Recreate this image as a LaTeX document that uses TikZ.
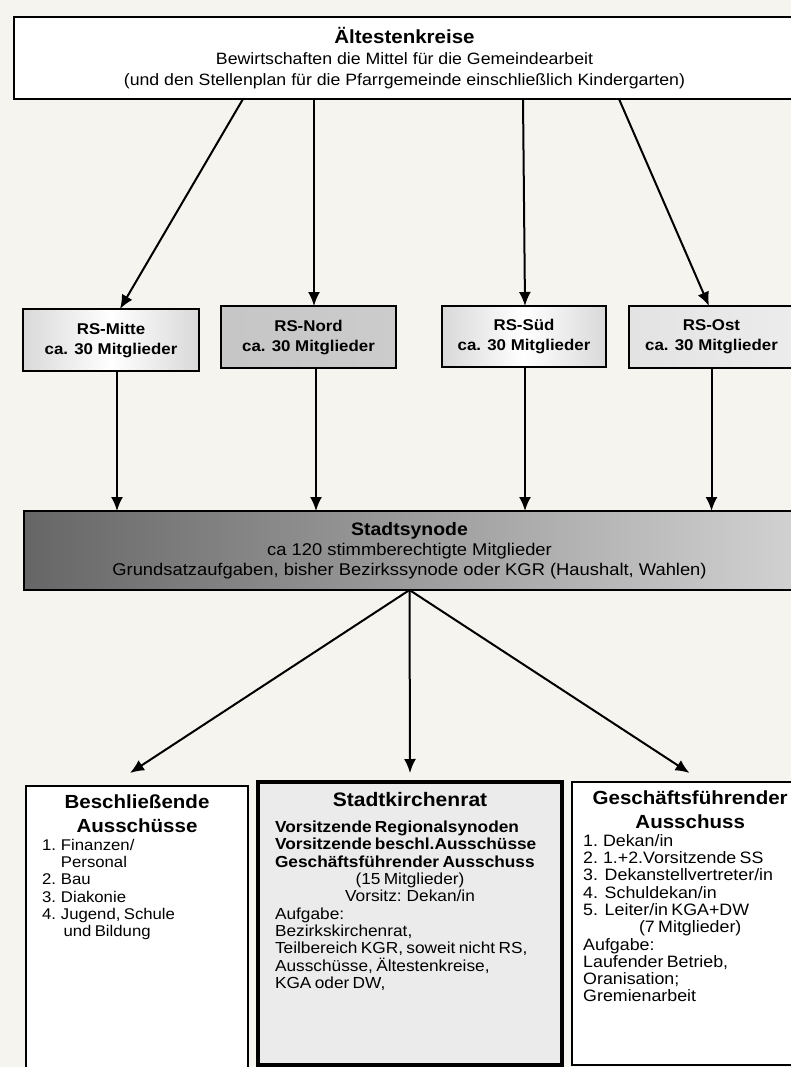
\documentclass[tikz,border=0pt]{standalone}
\usepackage{fontspec}
\setmainfont{Liberation Sans}[FakeStretch=1.08]
\usetikzlibrary{arrows.meta,positioning}
\definecolor{paper}{RGB}{246,244,239}

\tikzset{
  box/.style={draw,line width=1.9pt,outer sep=0pt,inner sep=0pt,fill=white,anchor=north west},
  rsbox/.style={box,align=center,left color=gray!30,right color=gray!30,middle color=white,
    font=\bfseries\fontsize{15.6}{20}\selectfont},
  boxtext/.style={anchor=north,inner sep=0pt,text width=#1},
  pfeil/.style={line width=2pt,-{Latex[length=14pt,width=12pt]}}
}

\begin{document}
\begin{tikzpicture}[x=1pt,y=-1pt]
\fill[paper] (0,0) rectangle (791,1067);
\useasboundingbox (0,0) rectangle (791,1067);

% Aeltestenkreise
\node[box,align=center,minimum width=781pt,minimum height=82pt,
  font=\fontsize{16.4}{21}\selectfont] (aelt) at (14,17)
  {{\bfseries\fontsize{19}{21}\selectfont Ältestenkreise}\\
   Bewirtschaften die Mittel für die Gemeindearbeit\\
   (und den Stellenplan für die Pfarrgemeinde einschließlich Kindergarten)};

% Regionalsynoden
\node[rsbox,minimum width=176pt,minimum height=62pt] (rsmitte) at (23,309) {RS-Mitte\\ca. 30 Mitglieder};
\node[rsbox,minimum width=175pt,minimum height=62pt,left color=gray!45,right color=gray!40] (rsnord) at (221,306) {RS-Nord\\ca. 30 Mitglieder};
\node[rsbox,minimum width=164pt,minimum height=61pt] (rssued) at (442,306) {RS-Süd\\ca. 30 Mitglieder};
\node[rsbox,minimum width=165pt,minimum height=62pt,left color=gray!22,right color=gray!15] (rsost) at (629,306) {RS-Ost\\ca. 30 Mitglieder};

% Stadtsynode
\node[box,align=center,minimum width=771pt,minimum height=79pt,
  left color=black!60,right color=black!18,font=\fontsize{17}{20}\selectfont] (synode) at (24,511)
  {{\bfseries\fontsize{18}{20}\selectfont Stadtsynode}\\
   ca 120 stimmberechtigte Mitglieder\\
   Grundsatzaufgaben, bisher Bezirkssynode oder KGR (Haushalt, Wahlen)};

% untere Reihe
\node[box,minimum width=222pt,minimum height=290pt] (beschl) at (26,786) {};
\node[box,minimum width=304pt,minimum height=283pt,line width=3.5pt,fill=gray!16] (skr) at (258,782) {};
\node[box,minimum width=225pt,minimum height=283pt] (gfa) at (572,782) {};

\node[boxtext=190pt] (beschltext) at ([yshift=-9pt]beschl.north)
  {{\centering\bfseries\fontsize{19}{24}\selectfont Beschließende\\Ausschüsse\par}
   \raggedright\fontsize{15.5}{17.3}\selectfont
   1. Finanzen/\\
   \phantom{1. }Personal\\
   2. Bau\\
   3. Diakonie\\
   4. Jugend, Schule\\
   \phantom{4. }\,und Bildung\par};

\node[boxtext=270pt] (skrtext) at ([yshift=-10pt]skr.north)
  {{\centering\bfseries\fontsize{19.5}{23}\selectfont Stadtkirchenrat\par}
   \vspace{9pt}
   {\raggedright\bfseries\fontsize{16}{17.3}\selectfont
   Vorsitzende Regionalsynoden\\
   Vorsitzende beschl.Ausschüsse\\
   Geschäftsführender Ausschuss\par}
   {\centering\fontsize{16}{17.3}\selectfont (15 Mitglieder)\\Vorsitz: Dekan/in\par}
   {\raggedright\fontsize{16}{17.3}\selectfont
   Aufgabe:\\
   Bezirkskirchenrat,\\
   Teilbereich KGR, soweit nicht RS,\\
   Ausschüsse, Ältestenkreise,\\
   KGA oder DW,\par}};

\node[boxtext=214pt,anchor=north west] (gfatext) at ([xshift=11pt,yshift=-9pt]gfa.north west)
  {{\centering\bfseries\fontsize{19}{24}\selectfont Geschäftsführender\\Ausschuss\par}
   {\raggedright\fontsize{16.5}{17.3}\selectfont
   1. Dekan/in\\
   2. 1.+2.Vorsitzende SS\\
   3.\ \ Dekanstellvertreter/in\\
   4.\ \ Schuldekan/in\\
   5.\ \ Leiter/in KGA+DW\par}
   {\centering\fontsize{16.5}{17.3}\selectfont (7 Mitglieder)\par}
   {\raggedright\fontsize{16.5}{17.3}\selectfont
   Aufgabe:\\
   Laufender Betrieb,\\
   Oranisation;\\
   Gremienarbeit\par}};

% Pfeile
\draw[pfeil] ([xshift=-161.5pt]aelt.south) -- ([xshift=9pt]rsmitte.north);
\draw[pfeil] ([xshift=-90.5pt]aelt.south) -- ([xshift=5.5pt]rsnord.north);
\draw[pfeil] ([xshift=118.5pt]aelt.south) -- ([xshift=1pt]rssued.north);
\draw[pfeil] ([xshift=214.5pt]aelt.south) -- ([xshift=-2.5pt]rsost.north);

\draw[pfeil] ([xshift=6pt]rsmitte.south) -- ([xshift=6pt]rsmitte.south |- synode.north);
\draw[pfeil] ([xshift=7.5pt]rsnord.south) -- ([xshift=7.5pt]rsnord.south |- synode.north);
\draw[pfeil] ([xshift=1pt]rssued.south) -- ([xshift=1pt]rssued.south |- synode.north);
\draw[pfeil] (rsost.south) -- (rsost.south |- synode.north);

\draw[pfeil] (synode.south) -- ([xshift=-7pt,yshift=13pt]beschl.north);
\draw[pfeil] (synode.south) -- ([yshift=9pt]skr.north);
\draw[pfeil] (synode.south) -- ([xshift=5pt,yshift=9pt]gfa.north);
\end{tikzpicture}
\end{document}
